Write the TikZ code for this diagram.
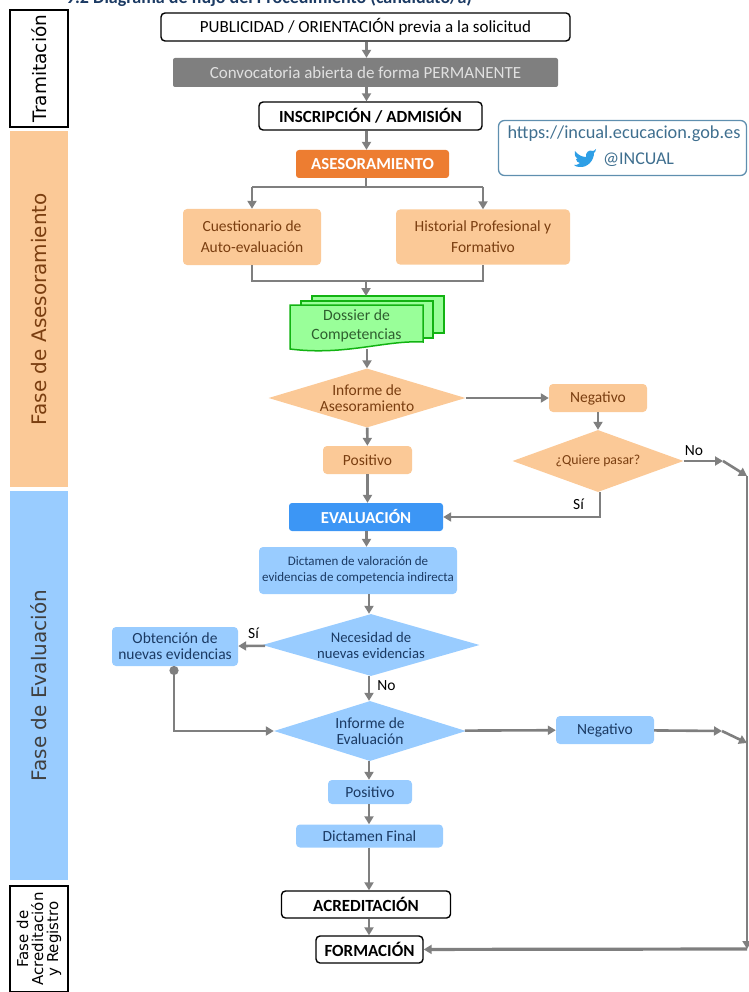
\documentclass[tikz,border=0pt]{standalone}
\usepackage{fontspec}
\setmainfont{Carlito}
\newfontfamily\sidefont{DejaVu Sans}
\usetikzlibrary{shapes,arrows.meta}
\definecolor{linegray}{HTML}{7F7F7F}
\definecolor{softorange}{HTML}{FBC997}
\definecolor{softblue}{HTML}{99CCFF}
\definecolor{brownink}{HTML}{7A3E10}
\definecolor{navyink}{HTML}{1B3A63}
\definecolor{strongorange}{HTML}{ED7D31}
\definecolor{strongblue}{HTML}{3C96F5}
\definecolor{sheetgreen}{HTML}{99FF99}
\definecolor{sheetline}{HTML}{12B312}
\definecolor{sheetink}{HTML}{2F5F2F}
\definecolor{linkline}{HTML}{5F8FAF}
\definecolor{linkink}{HTML}{3F6F8F}
\definecolor{birdblue}{HTML}{2E9FE6}
\begin{document}
\begin{tikzpicture} [
                x=1pt,
                y=-1pt,
                font=\fontsize{15.5}{16}\selectfont,
                plain step/.style = {draw=black,line width=1.4pt,rounded corners=4pt,fill=white,inner sep=0pt,align=center,font=\fontsize{17}{19}\selectfont},
                orange step/.style = {fill=softorange,text=brownink,rounded corners=4pt,inner sep=0pt,align=center},
                blue step/.style = {fill=softblue,text=navyink,rounded corners=4pt,inner sep=0pt,align=center},
                strong step/.style = {text=white,rounded corners=3pt,inner sep=0pt,font=\bfseries\fontsize{16.8}{18}\selectfont},
                orange test/.style = {diamond,fill=softorange,text=brownink,inner sep=0pt,align=center},
                blue test/.style = {diamond,fill=softblue,text=navyink,inner sep=0pt,align=center},
                side box/.style = {minimum height=58pt,rotate=90,inner sep=0pt,align=center},
                sheet/.style = {draw=sheetline,fill=sheetgreen,line width=1.5pt},
                arrow edge/.style = {draw=linegray,line width=2.6pt,-{Triangle[length=8pt,width=9pt]}},
                plain edge/.style = {draw=linegray,line width=2.6pt,-},
                answer/.style = {text=black,inner sep=0pt}
            ]
        \useasboundingbox (0,0) rectangle (748,992);
        % Title, cut by the top of the page
        \node[font=\bfseries\fontsize{18}{20}\selectfont,text=navyink,inner sep=0pt] (title) at (269,-2) {9.2 Diagrama de flujo del Procedimiento (candidato/a)};
        % Phases at the left
        \node[side box,draw=black,line width=1.4pt,minimum width=117pt,font=\sidefont\fontsize{18.5}{21}\selectfont] (tramitacion) at (39,68.5) {Tramitación};
        \node[side box,fill=softorange,minimum width=356pt,text=brownink,font=\sidefont\fontsize{20}{22}\selectfont] (asesoria) at (39,309) {Fase de Asesoramiento};
        \node[side box,fill=softblue,minimum width=389pt,text=black!75,font=\sidefont\fontsize{20}{22}\selectfont] (evaluacion) at (39,685.5) {Fase de Evaluación};
        \node[side box,draw=black,line width=1.4pt,minimum width=106pt,font=\sidefont\fontsize{15}{15}\selectfont] (registro) at (39,939) {Fase de\\Acreditación\\y Registro};
        % First we draw the steps
        \foreach \pos/\name/\wide/\high/\txt in {
                {(365.5,27)/publicidad/409/28/{PUBLICIDAD / ORIENTACIÓN previa a la solicitud}},
                {(370.5,116)/inscripcion/223/28/{\textbf{INSCRIPCIÓN / ADMISIÓN}}},
                {(366,904.5)/acreditacion/169/27/{\textbf{ACREDITACIÓN}}},
            {(369.5,949.5)/formacion/107/27/{\textbf{FORMACIÓN}}}}
            \node[plain step,minimum width=\wide pt,minimum height=\high pt] (\name) at \pos {\txt};
        \node[fill=linegray,text=white!88!black,rounded corners=2pt,minimum width=385pt,minimum height=29pt,inner sep=0pt,font=\fontsize{17}{19}\selectfont] (convocatoria) at (365.5,72.5) {Convocatoria abierta de forma PERMANENTE};
        \node[strong step,fill=strongorange,minimum width=153pt,minimum height=28pt] (asesoramiento) at (372.5,164) {ASESORAMIENTO};
        \node[strong step,fill=strongblue,minimum width=154pt,minimum height=28pt] (evalbox) at (366,517) {EVALUACIÓN};
        \foreach \pos/\name/\wide/\high/\txt in {
                {(252,237)/cuestionario/138/56/{Cuestionario de\\[5pt]Auto-evaluación}},
                {(483,237)/historial/174/55/{Historial Profesional y\\[5pt]Formativo}},
                {(598,398)/negativoa/98/28/{Negativo}},
            {(367.5,460)/positivoa/89/28/{Positivo}}}
            \node[orange step,minimum width=\wide pt,minimum height=\high pt] (\name) at \pos {\txt};
        \node[blue step,minimum width=198pt,minimum height=47pt,font=\fontsize{13}{16}\selectfont] (dictamen) at (358,570.5) {Dictamen de valoración de\\evidencias de competencia indirecta};
        \foreach \pos/\name/\wide/\high/\txt in {
                {(175,646.5)/obtencion/126/39/{Obtención de\\nuevas evidencias}},
                {(605,730)/negativob/98/28/{Negativo}},
                {(370,792)/positivob/84/24/{Positivo}},
            {(369.5,836)/dictamenfinal/147/23/{Dictamen Final}}}
            \node[blue step,minimum width=\wide pt,minimum height=\high pt] (\name) at \pos {\txt};
        % Decisions
        \node[orange test,aspect=3.3,minimum width=197pt,minimum height=59pt] (informea) at (367,398) {Informe de\\Asesoramiento};
        \node[orange test,aspect=2.75,minimum width=171pt,minimum height=62pt,font=\fontsize{13.8}{15}\selectfont] (quiere) at (598,461) {¿Quiere pasar?};
        \node[blue test,aspect=3.5,minimum width=217pt,minimum height=62pt,font=\fontsize{14.7}{16}\selectfont] (necesidad) at (371,645) {Necesidad de\\nuevas evidencias};
        \node[blue test,aspect=3.2,minimum width=192pt,minimum height=60pt] (informeb) at (370,731) {Informe de\\Evaluación};
        % The dossier is three sheets
        \draw[sheet] (312,296) rectangle (444,333);
        \draw[sheet] (301,301) rectangle (433,338);
        \draw[sheet] (290,305) -- (423,305) -- (423,342) .. controls (385,340) and (345,356) .. (290,349) -- cycle;
        \node[text=sheetink,inner sep=0pt,align=center,minimum width=133pt,minimum height=46pt,font=\fontsize{15.7}{19}\selectfont] (dossier) at (356.5,326) {Dossier de\\Competencias};
        \coordinate (dossiertop) at (366,296);
        % The box with the links
        \node[draw=linkline,line width=1.3pt,rounded corners=6pt,minimum width=248pt,minimum height=55pt,inner sep=0pt] (enlaces) at (622.5,148) {};
        \node[text=linkink,inner sep=0pt,font=\fontsize{18.3}{20}\selectfont] (web) at (624,134) {https://incual.ecucacion.gob.es};
        \node[text=linkink,inner sep=0pt,font=\fontsize{18}{20}\selectfont] (cuenta) at (638.5,160) {@INCUAL};
        \fill[birdblue,yshift=4pt] (575,155) .. controls (578,159) and (582,161) .. (586,161) .. controls (585,157) and (589,153) .. (593,155) .. controls (594,155) and (595,154) .. (596,153) .. controls (596,155) and (595,156) .. (594,157) .. controls (594,164) and (588,172) .. (579,171) .. controls (577,171) and (575,170) .. (574,169) .. controls (576,169) and (578,169) .. (580,167) .. controls (578,167) and (576,165) .. (576,163) .. controls (577,163) and (578,163) .. (578,163) .. controls (576,162) and (574,160) .. (575,155) -- cycle;
        % Points where the lines turn
        \coordinate (stemup) at (366.5,0);
        \coordinate (stemlow) at (369,0);
        \coordinate (splitmid) at (366,187);
        \coordinate (splitleft) at (252,187);
        \coordinate (splitright) at (483,187);
        \coordinate (joinleft) at (252,281);
        \coordinate (joinmid) at (366,281);
        \coordinate (joinright) at (483,281);
        \coordinate (sicorner) at (600,517);
        \coordinate (noelbow) at (723,461);
        \coordinate (railtop) at (747,476);
        \coordinate (negelbow) at (722,731);
        \coordinate (railmid) at (747,743);
        \coordinate (railend) at (747,949);
        \coordinate (obtturn) at (174,731);
        \coordinate (obtstart) at (174,666);
        % Connect steps with edges
        \path[arrow edge] (publicidad.south -| stemup) -- (convocatoria.north -| stemup);
        \path[arrow edge] (convocatoria.south -| stemup) -- (inscripcion.north -| stemup);
        \path[arrow edge] (inscripcion.south -| stemup) -- (asesoramiento.north -| stemup);
        \path[arrow edge] (informea) -- (positivoa);
        \path[arrow edge] (negativoa) -- (quiere);
        \path[arrow edge] (positivoa) -- (evalbox.north -| positivoa);
        \path[arrow edge] (evalbox.south -| stemup) -- (dictamen.north -| stemup);
        \path[arrow edge] (dictamen.south -| stemlow) -- (necesidad.north -| stemlow);
        \path[arrow edge] (necesidad.south -| stemlow) -- (informeb.north -| stemlow);
        \path[arrow edge] (informeb.south -| stemlow) -- (positivob.north -| stemlow);
        \path[arrow edge] (positivob.south -| stemlow) -- (dictamenfinal.north -| stemlow);
        \path[arrow edge] (dictamenfinal.south -| stemlow) -- (acreditacion.north -| stemlow);
        \path[arrow edge] (acreditacion.south -| stemlow) -- (formacion.north -| stemlow);
        \path[arrow edge] (informea) -- (negativoa);
        \path[arrow edge] (necesidad) -- (obtencion);
        \path[arrow edge] (informeb) -- (negativob);
        \path[plain edge] (asesoramiento.south -| splitmid) -- (splitmid);
        \path[plain edge] (splitleft) -- (splitright);
        \path[arrow edge] (splitleft) -- (cuestionario);
        \path[arrow edge] (splitright) -- (historial);
        \path[plain edge] (cuestionario) -- (joinleft) -- (joinright) -- (historial);
        \path[arrow edge] (joinmid) -- (dossiertop);
        \path[arrow edge] (dossier.south -| informea) -- (informea.north);
        \path[arrow edge] (quiere.south -| sicorner) -- (sicorner) -- (evalbox);
        \path[arrow edge] (quiere) -- (noelbow);
        \path[arrow edge] (noelbow) -- (railtop);
        \path[arrow edge] (negativob) -- (negelbow);
        \path[arrow edge] (negelbow) -- (railmid);
        \path[arrow edge,line width=1.8pt] (railtop) -- (railend);
        \path[arrow edge,line width=3.2pt] (railend) -- (formacion);
        \path[plain edge,{Circle[length=9pt]}-{Triangle[length=8pt,width=9pt]}] (obtstart) -- (obtturn) -- (informeb);
        % Answers
        \foreach \pos/\name/\txt in {
                {(578.5,504)/sipasar/Sí},
                {(694,451)/nopasar/No},
                {(253.5,633)/siobt/Sí},
            {(386.5,686)/nonecesidad/No}}
            \node[answer] (\name) at \pos {\txt};
\end{tikzpicture}
\end{document}
